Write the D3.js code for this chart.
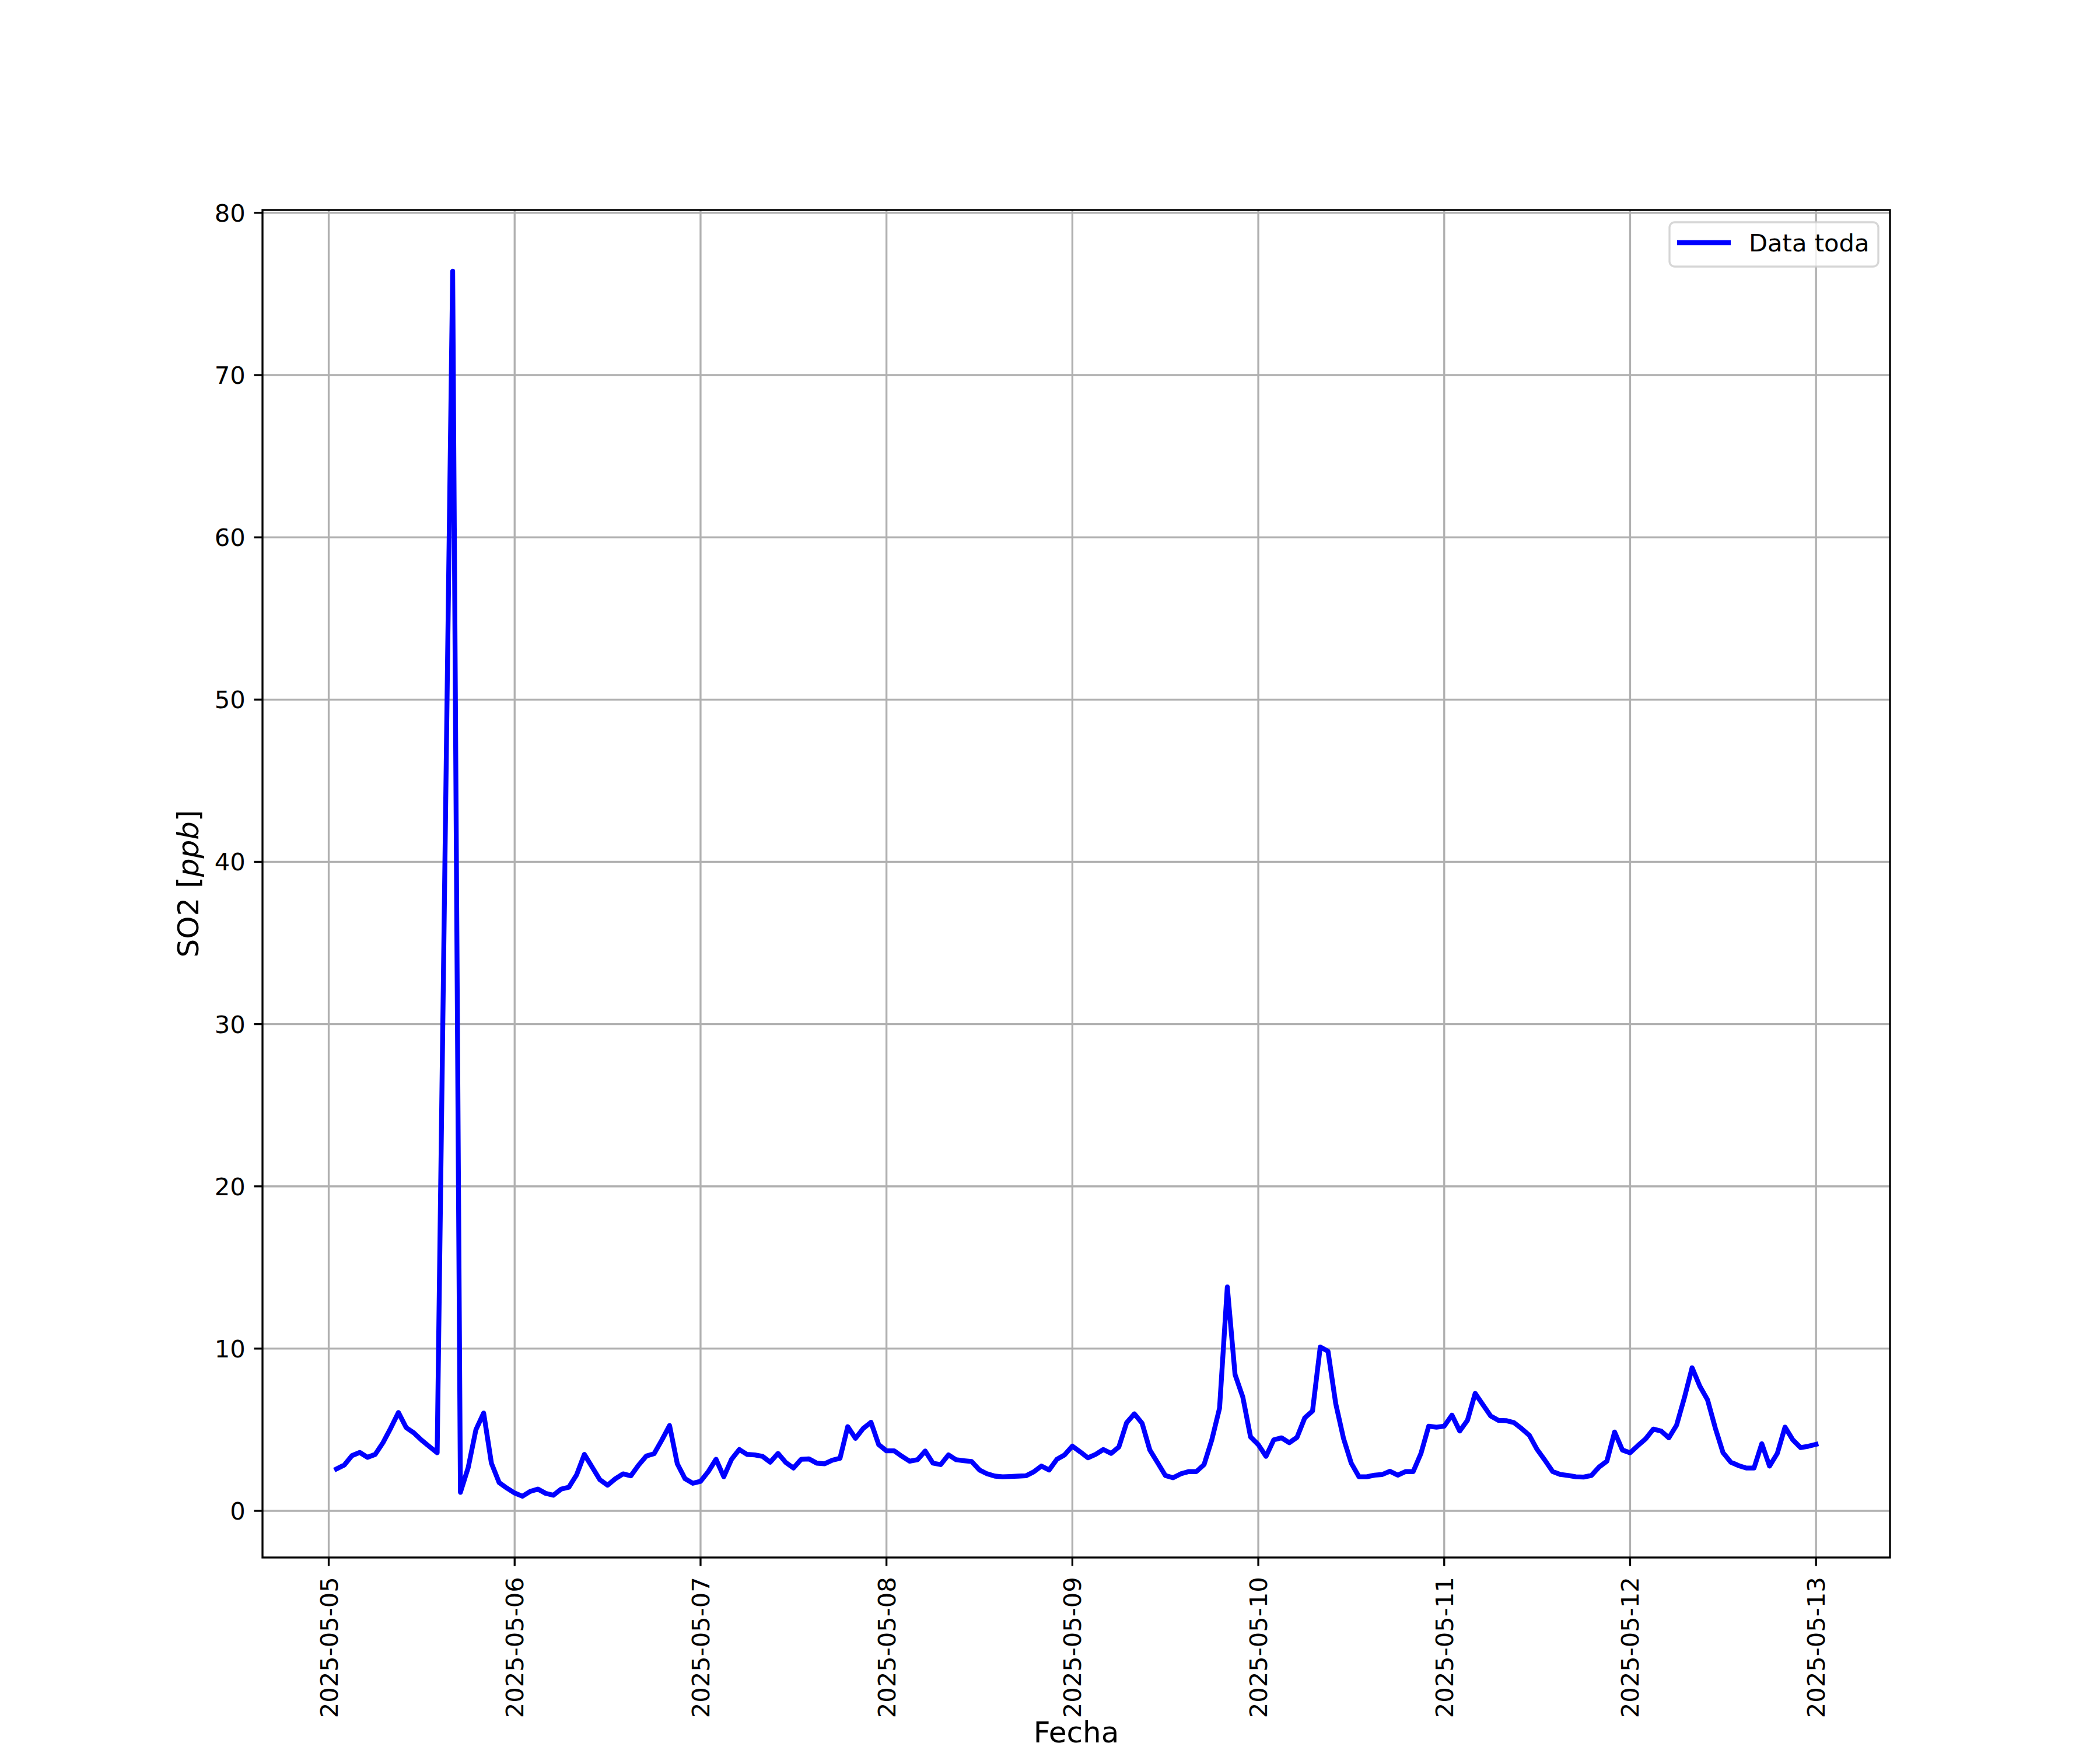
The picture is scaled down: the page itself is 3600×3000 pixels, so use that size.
<!DOCTYPE html>
<html>
<head>
<meta charset="utf-8">
<script src="https://cdn.jsdelivr.net/npm/d3@7"></script>
<style>
  html, body { margin: 0; padding: 0; background: #fff; }
  svg { display: block; }
  text { font-family: "DejaVu Sans", sans-serif; fill: #000; }
</style>
</head>
<body>
<script>
// ---------------- data ----------------
// hourly SO2 readings starting 2025-05-05 01:00 (null = no reading; line joins neighbours)
const startTime = "2025-05-05T01:00:00Z";
const so2Values = [
  2.58, 2.82, 3.40, 3.60, 3.30, 3.48, 4.20, 5.10, 6.06, 5.13, 4.80, 4.35, 3.96, 3.58,
  null, 76.4, 1.14, 2.66, 5.00, 6.03, 2.94, 1.74, 1.40, 1.10,
  0.90, 1.20, 1.34, 1.08, 0.96, 1.34, 1.46, 2.22, 3.48, 2.70, 1.92, 1.58,
  1.98, 2.28, 2.16, 2.82, 3.38, 3.52, 4.36, 5.26, 2.90, 1.98, 1.70, 1.82,
  2.42, 3.18, 2.10, 3.18, 3.78, 3.48, 3.45, 3.36, 3.00, 3.54, 2.98, 2.64,
  3.18, 3.20, 2.94, 2.90, 3.12, 3.24, 5.19, 4.47, 5.08, 5.46, 4.08, 3.70,
  3.70, 3.36, 3.06, 3.15, 3.69, 2.94, 2.85, 3.45, 3.15, 3.09, 3.04, 2.52,
  2.28, 2.14, 2.10, 2.12, 2.14, 2.16, 2.40, 2.76, 2.52, 3.18, 3.45, 3.99,
  3.64, 3.27, 3.48, 3.78, 3.54, 3.94, 5.43, 5.98, 5.40, 3.75, 2.97, 2.18,
  2.04, 2.28, 2.42, 2.42, 2.85, 4.38, 6.33, 13.8, 8.40, 7.02, 4.56, 4.08,
  3.36, 4.38, 4.50, 4.20, 4.53, 5.73, 6.15, 10.1, 9.84, 6.60, 4.47, 2.94,
  2.10, 2.10, 2.20, 2.24, 2.44, 2.20, 2.42, 2.42, 3.54, 5.22, 5.16, 5.22,
  5.90, 4.92, 5.58, 7.24, 6.54, 5.85, 5.58, 5.56, 5.44, 5.07, 4.65, 3.78,
  3.12, 2.42, 2.24, 2.18, 2.10, 2.08, 2.18, 2.70, 3.06, 4.86, 3.75, 3.58,
  4.02, 4.44, 5.04, 4.92, 4.50, 5.28, 6.96, 8.82, 7.68, 6.84, 5.10, 3.58,
  3.00, 2.79, 2.64, 2.64, 4.14, 2.76, 3.54, 5.16, 4.38, 3.90, 3.98, 4.10
];
const xTickLabels = ["2025-05-05","2025-05-06","2025-05-07","2025-05-08","2025-05-09",
                     "2025-05-10","2025-05-11","2025-05-12","2025-05-13"];
const yTicks = [0, 10, 20, 30, 40, 50, 60, 70, 80];
const seriesName = "Data toda";
const xLabel = "Fecha";

// ---------------- layout ----------------
const W = 3600, H = 3000;
const L = 450, R = 3240, T = 360, B = 2670;
const PT = 300 / 72;          // px per point at 300 dpi
const FS = 10 * PT;           // tick font
const FL = 12 * PT;           // label font

const t0 = new Date(startTime);
const data = so2Values
  .map((v, i) => ({ t: d3.utcHour.offset(t0, i), v }))
  .filter(d => d.v !== null);

const svg = d3.select("body").append("svg").attr("width", W).attr("height", H);
svg.append("rect").attr("width", W).attr("height", H).attr("fill", "#fff");

// matplotlib-like 5% margins
const tExt = d3.extent(data, d => d.t);
const tSpan = tExt[1] - tExt[0];
const x = d3.scaleUtc()
  .domain([new Date(+tExt[0] - 0.05 * tSpan), new Date(+tExt[1] + 0.05 * tSpan)])
  .range([L, R]);
const vExt = d3.extent(data, d => d.v);
const vSpan = vExt[1] - vExt[0];
const y = d3.scaleLinear()
  .domain([vExt[0] - 0.05 * vSpan, vExt[1] + 0.05 * vSpan])
  .range([B, T]);

const xTickDates = xTickLabels.map(s => new Date(s + "T00:00:00Z"));

// grid
const grid = svg.append("g").attr("stroke", "#b0b0b0").attr("stroke-width", 0.8 * PT);
grid.selectAll("line.gx").data(xTickDates).enter().append("line")
  .attr("x1", d => x(d)).attr("x2", d => x(d)).attr("y1", T).attr("y2", B);
grid.selectAll("line.gy").data(yTicks).enter().append("line")
  .attr("x1", L).attr("x2", R).attr("y1", d => y(d)).attr("y2", d => y(d));

// clip
svg.append("clipPath").attr("id", "clip").append("rect")
  .attr("x", L).attr("y", T).attr("width", R - L).attr("height", B - T);

// line
const line = d3.line().x(d => x(d.t)).y(d => y(d.v));
svg.append("path").datum(data)
  .attr("clip-path", "url(#clip)")
  .attr("d", line)
  .attr("fill", "none")
  .attr("stroke", "#0000ff")
  .attr("stroke-width", 2 * PT)
  .attr("stroke-linejoin", "round")
  .attr("stroke-linecap", "square");

// spines
svg.append("rect").attr("x", L).attr("y", T).attr("width", R - L).attr("height", B - T)
  .attr("fill", "none").attr("stroke", "#000").attr("stroke-width", 0.8 * PT);

// ticks
const tickLen = 3.5 * PT, tickPad = 3.5 * PT;
const ticks = svg.append("g").attr("stroke", "#000").attr("stroke-width", 0.8 * PT);
ticks.selectAll("line.tx").data(xTickDates).enter().append("line")
  .attr("x1", d => x(d)).attr("x2", d => x(d)).attr("y1", B).attr("y2", B + tickLen);
ticks.selectAll("line.ty").data(yTicks).enter().append("line")
  .attr("x1", L - tickLen).attr("x2", L).attr("y1", d => y(d)).attr("y2", d => y(d));

// x tick labels (rotated 90)
svg.selectAll("text.xt").data(xTickDates).enter().append("text")
  .attr("transform", (d) => `translate(${x(d)},${B + tickLen + tickPad + 4}) rotate(-90)`)
  .attr("text-anchor", "end")
  .attr("dy", "0.36em")
  .attr("font-size", FS)
  .text((d, i) => xTickLabels[i]);

// y tick labels
svg.selectAll("text.yt").data(yTicks).enter().append("text")
  .attr("x", L - tickLen - tickPad)
  .attr("y", d => y(d))
  .attr("dy", "0.36em")
  .attr("text-anchor", "end")
  .attr("font-size", FS)
  .text(d => d);

// axis labels
svg.append("text")
  .attr("x", (L + R) / 2).attr("y", 2987)
  .attr("text-anchor", "middle")
  .attr("font-size", FL)
  .text(xLabel);

const yl = svg.append("text")
  .attr("transform", `translate(340,${(T + B) / 2}) rotate(-90)`)
  .attr("text-anchor", "middle")
  .attr("font-size", FL);
yl.append("tspan").text("SO2 [");
yl.append("tspan").attr("font-style", "italic").text("ppb");
yl.append("tspan").text("]");

// legend
const lg = svg.append("g");
lg.append("rect")
  .attr("x", 2862).attr("y", 381).attr("width", 3220 - 2862).attr("height", 457 - 381)
  .attr("rx", 9).attr("ry", 9)
  .attr("fill", "#fff").attr("fill-opacity", 0.8)
  .attr("stroke", "#cccccc").attr("stroke-opacity", 0.8).attr("stroke-width", 0.8 * PT);
lg.append("line")
  .attr("x1", 2875).attr("x2", 2967).attr("y1", 416).attr("y2", 416)
  .attr("stroke", "#0000ff").attr("stroke-width", 2 * PT);
lg.append("text")
  .attr("x", 2998).attr("y", 431)
  .attr("font-size", FS)
  .text(seriesName);
</script>
</body>
</html>
